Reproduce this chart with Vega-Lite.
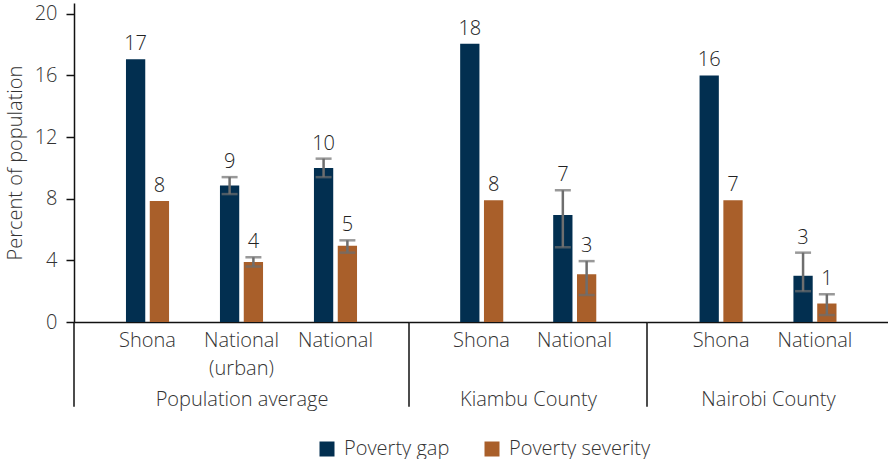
{
  "$schema": "https://vega.github.io/schema/vega-lite/v6.json",
  "padding": {"left": 5, "top": 3, "right": 0, "bottom": 0},
  "spacing": 0,
  "bounds": "flush",
  "config": {
    "font": "Open Sans",
    "view": {"stroke": null},
    "text": {"font": "Open Sans", "fontWeight": 300},
    "axis": {
      "labelFont": "Open Sans", "titleFont": "Open Sans",
      "labelFontWeight": 300, "titleFontWeight": 300,
      "labelFontSize": 20, "titleFontSize": 20,
      "labelColor": "#333333", "titleColor": "#333333",
      "domainColor": "#111111", "domainWidth": 1.5,
      "tickColor": "#111111", "tickWidth": 1.5,
      "grid": false
    },
    "legend": {
      "labelFont": "Open Sans", "labelFontWeight": 300, "labelFontSize": 20, "labelColor": "#333333"
    }
  },
  "datasets": {
    "rows": [
      {"group": "Population average", "cat": "Shona", "series": "Poverty gap", "value": 17.05, "lo": null, "hi": null, "label": "17"},
      {"group": "Population average", "cat": "Shona", "series": "Poverty severity", "value": 7.85, "lo": null, "hi": null, "label": "8"},
      {"group": "Population average", "cat": "National (urban)", "series": "Poverty gap", "value": 8.85, "lo": 8.3, "hi": 9.4, "label": "9"},
      {"group": "Population average", "cat": "National (urban)", "series": "Poverty severity", "value": 3.9, "lo": 3.6, "hi": 4.2, "label": "4"},
      {"group": "Population average", "cat": "National", "series": "Poverty gap", "value": 10.0, "lo": 9.4, "hi": 10.6, "label": "10"},
      {"group": "Population average", "cat": "National", "series": "Poverty severity", "value": 4.95, "lo": 4.5, "hi": 5.3, "label": "5"},
      {"group": "Kiambu County", "cat": "Shona", "series": "Poverty gap", "value": 18.05, "lo": null, "hi": null, "label": "18"},
      {"group": "Kiambu County", "cat": "Shona", "series": "Poverty severity", "value": 7.9, "lo": null, "hi": null, "label": "8"},
      {"group": "Kiambu County", "cat": "National", "series": "Poverty gap", "value": 6.95, "lo": 4.85, "hi": 8.55, "label": "7"},
      {"group": "Kiambu County", "cat": "National", "series": "Poverty severity", "value": 3.1, "lo": 1.75, "hi": 3.95, "label": "3"},
      {"group": "Nairobi County", "cat": "Shona", "series": "Poverty gap", "value": 16.0, "lo": null, "hi": null, "label": "16"},
      {"group": "Nairobi County", "cat": "Shona", "series": "Poverty severity", "value": 7.9, "lo": null, "hi": null, "label": "7"},
      {"group": "Nairobi County", "cat": "National", "series": "Poverty gap", "value": 3.0, "lo": 2.0, "hi": 4.5, "label": "3"},
      {"group": "Nairobi County", "cat": "National", "series": "Poverty severity", "value": 1.2, "lo": 0.45, "hi": 1.8, "label": "1"}
    ]
  },
  "resolve": {"scale": {"color": "shared", "y": "shared"}},
  "hconcat": [
    {
      "width": 335, "height": 319,
      "layer": [
        {
          "data": {"name": "rows"},
          "transform": [
            {"filter": "datum.group == 'Population average'"},
            {"calculate": "datum.hi != null ? datum.hi : datum.value", "as": "top"}
          ],
          "encoding": {
            "x": {"field": "cat", "type": "nominal", "sort": ["Shona", "National (urban)", "National"],
              "scale": {"paddingInner": 0.5417, "paddingOuter": 0.553},
              "axis": {"title": "Population average", "ticks": false, "labelAngle": 0, "labelPadding": 8, "labelLineHeight": 28,
                "labelExpr": "datum.label == 'National (urban)' ? ['National', '(urban)'] : datum.label",
                "titleY": 83, "titleBaseline": "alphabetic"}},
            "xOffset": {"field": "series", "type": "nominal", "sort": ["Poverty gap", "Poverty severity"], "scale": {"paddingInner": 0.19, "paddingOuter": 0}}
          },
          "layer": [
            {
              "mark": {"type": "bar"},
              "encoding": {
                "y": {"field": "value", "type": "quantitative", "scale": {"domain": [0, 20.7], "nice": false},
                  "axis": {"title": "Percent of population", "values": [0, 4, 8, 12, 16, 20], "tickSize": 8, "labelPadding": 9, "titlePadding": 9}},
                "color": {"field": "series", "type": "nominal", "scale": {"domain": ["Poverty gap", "Poverty severity"], "range": ["#022f50", "#a95f2a"]},
                  "legend": {"orient": "none", "legendX": 243, "legendY": 436, "direction": "horizontal", "title": null, "symbolType": "square", "symbolSize": 225, "symbolStrokeWidth": 0, "columnPadding": 32, "labelOffset": 7}}
              }
            },
            {
              "mark": {"type": "rule", "color": "#6e6e6e", "strokeWidth": 2.5},
              "encoding": {"y": {"field": "lo", "type": "quantitative"}, "y2": {"field": "hi"}}
            },
            {
              "mark": {"type": "tick", "color": "#6e6e6e", "thickness": 2.5, "size": 16},
              "encoding": {"y": {"field": "lo", "type": "quantitative"}}
            },
            {
              "mark": {"type": "tick", "color": "#6e6e6e", "thickness": 2.5, "size": 16},
              "encoding": {"y": {"field": "hi", "type": "quantitative"}}
            },
            {
              "mark": {"type": "text", "fontSize": 20, "color": "#222222", "baseline": "alphabetic", "dy": -9},
              "encoding": {"y": {"field": "top", "type": "quantitative"}, "text": {"field": "label"}}
            }
          ]
        },
        {
          "data": {"values": [{"edge": 0}]},
          "mark": {"type": "rule", "color": "#111111", "strokeWidth": 1.5},
          "encoding": {
            "x": {"field": "edge", "type": "quantitative", "scale": {"domain": [0, 1]}, "axis": null},
            "y": {"datum": 0, "type": "quantitative"},
            "y2": {"datum": -5.5}
          }
        }
      ],
      "resolve": {"scale": {"x": "independent"}, "axis": {"x": "independent"}}
    },
    {
      "width": 238, "height": 319,
      "layer": [
        {
          "data": {"name": "rows"},
          "transform": [
            {"filter": "datum.group == 'Kiambu County'"},
            {"calculate": "datum.hi != null ? datum.hi : datum.value", "as": "top"}
          ],
          "encoding": {
            "x": {"field": "cat", "type": "nominal", "sort": ["Shona", "National"],
              "scale": {"paddingInner": 0.5417, "paddingOuter": 0.55},
              "axis": {"title": "Kiambu County", "ticks": false, "labelAngle": 0, "labelPadding": 8,
                "titleY": 83, "titleBaseline": "alphabetic"}},
            "xOffset": {"field": "series", "type": "nominal", "sort": ["Poverty gap", "Poverty severity"], "scale": {"paddingInner": 0.19, "paddingOuter": 0}}
          },
          "layer": [
            {
              "mark": {"type": "bar"},
              "encoding": {
                "y": {"field": "value", "type": "quantitative", "scale": {"domain": [0, 20.7], "nice": false}, "axis": null},
                "color": {"field": "series", "type": "nominal", "scale": {"domain": ["Poverty gap", "Poverty severity"], "range": ["#022f50", "#a95f2a"]}, "legend": null}
              }
            },
            {
              "mark": {"type": "rule", "color": "#6e6e6e", "strokeWidth": 2.5},
              "encoding": {"y": {"field": "lo", "type": "quantitative"}, "y2": {"field": "hi"}}
            },
            {
              "mark": {"type": "tick", "color": "#6e6e6e", "thickness": 2.5, "size": 16},
              "encoding": {"y": {"field": "lo", "type": "quantitative"}}
            },
            {
              "mark": {"type": "tick", "color": "#6e6e6e", "thickness": 2.5, "size": 16},
              "encoding": {"y": {"field": "hi", "type": "quantitative"}}
            },
            {
              "mark": {"type": "text", "fontSize": 20, "color": "#222222", "baseline": "alphabetic", "dy": -9},
              "encoding": {"y": {"field": "top", "type": "quantitative"}, "text": {"field": "label"}}
            }
          ]
        },
        {
          "data": {"values": [{"edge": 0}]},
          "mark": {"type": "rule", "color": "#111111", "strokeWidth": 1.5},
          "encoding": {
            "x": {"field": "edge", "type": "quantitative", "scale": {"domain": [0, 1]}, "axis": null},
            "y": {"datum": 0, "type": "quantitative"},
            "y2": {"datum": -5.5}
          }
        }
      ],
      "resolve": {"scale": {"x": "independent"}, "axis": {"x": "independent"}}
    },
    {
      "width": 242, "height": 319,
      "layer": [
        {
          "data": {"name": "rows"},
          "transform": [
            {"filter": "datum.group == 'Nairobi County'"},
            {"calculate": "datum.hi != null ? datum.hi : datum.value", "as": "top"}
          ],
          "encoding": {
            "x": {"field": "cat", "type": "nominal", "sort": ["Shona", "National"],
              "scale": {"paddingInner": 0.5417, "paddingOuter": 0.56},
              "axis": {"title": "Nairobi County", "ticks": false, "labelAngle": 0, "labelPadding": 8,
                "titleY": 83, "titleBaseline": "alphabetic"}},
            "xOffset": {"field": "series", "type": "nominal", "sort": ["Poverty gap", "Poverty severity"], "scale": {"paddingInner": 0.19, "paddingOuter": 0}}
          },
          "layer": [
            {
              "mark": {"type": "bar"},
              "encoding": {
                "y": {"field": "value", "type": "quantitative", "scale": {"domain": [0, 20.7], "nice": false}, "axis": null},
                "color": {"field": "series", "type": "nominal", "scale": {"domain": ["Poverty gap", "Poverty severity"], "range": ["#022f50", "#a95f2a"]}, "legend": null}
              }
            },
            {
              "mark": {"type": "rule", "color": "#6e6e6e", "strokeWidth": 2.5},
              "encoding": {"y": {"field": "lo", "type": "quantitative"}, "y2": {"field": "hi"}}
            },
            {
              "mark": {"type": "tick", "color": "#6e6e6e", "thickness": 2.5, "size": 16},
              "encoding": {"y": {"field": "lo", "type": "quantitative"}}
            },
            {
              "mark": {"type": "tick", "color": "#6e6e6e", "thickness": 2.5, "size": 16},
              "encoding": {"y": {"field": "hi", "type": "quantitative"}}
            },
            {
              "mark": {"type": "text", "fontSize": 20, "color": "#222222", "baseline": "alphabetic", "dy": -9},
              "encoding": {"y": {"field": "top", "type": "quantitative"}, "text": {"field": "label"}}
            }
          ]
        },
        {
          "data": {"values": [{"edge": 0}]},
          "mark": {"type": "rule", "color": "#111111", "strokeWidth": 1.5},
          "encoding": {
            "x": {"field": "edge", "type": "quantitative", "scale": {"domain": [0, 1]}, "axis": null},
            "y": {"datum": 0, "type": "quantitative"},
            "y2": {"datum": -5.5}
          }
        }
      ],
      "resolve": {"scale": {"x": "independent"}, "axis": {"x": "independent"}}
    }
  ]
}
